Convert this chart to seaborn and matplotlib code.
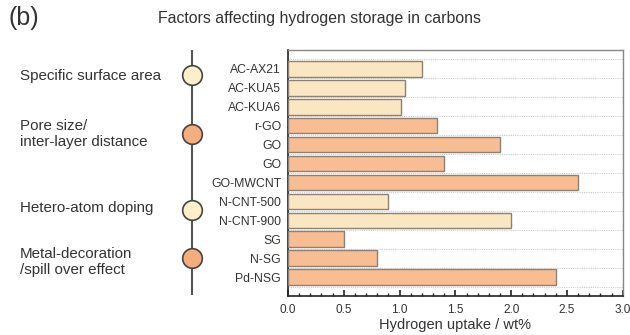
import matplotlib
matplotlib.use("Agg")
import matplotlib.pyplot as plt
from matplotlib.ticker import MultipleLocator, FixedLocator, FormatStrFormatter
import seaborn as sns
import pandas as pd
import numpy as np

# Data
materials = ["AC-AX21", "AC-KUA5", "AC-KUA6", "r-GO", "GO", "GO", "GO-MWCNT",
             "N-CNT-500", "N-CNT-900", "SG", "N-SG", "Pd-NSG"]
uptake = [1.2, 1.05, 1.01, 1.34, 1.9, 1.4, 2.6, 0.9, 2.0, 0.5, 0.8, 2.4]
groups = ["light", "light", "light", "orange", "orange", "orange", "orange",
          "light", "light", "orange", "orange", "orange"]
factors = ["Specific surface area", "Pore size/\ninter-layer distance",
           "Hetero-atom doping", "Metal-decoration\n/spill over effect"]
factor_groups = ["light", "orange", "light", "orange"]

bar_colors = {"light": "#FAE6C0", "orange": "#F8BD92"}
dot_colors = {"light": "#FDEFC9", "orange": "#F3AD7E"}

sns.set_style("white")
plt.rcParams["font.family"] = ["Liberation Sans", "DejaVu Sans"]
text_color = "#333333"

W, H = 630, 335
fig = plt.figure(figsize=(W / 100, H / 100), dpi=100)

# Bar chart axes (placed in pixel units)
left, right, top, bottom = 288, 622.7, 50, 296
ax = fig.add_axes([left / W, (H - bottom) / H, (right - left) / W, (bottom - top) / H])

df = pd.DataFrame({"idx": [str(i) for i in range(len(materials))],
                   "uptake": uptake, "group": groups})
sns.barplot(data=df, x="uptake", y="idx", hue="group", palette=bar_colors,
            order=df["idx"].tolist(), dodge=False, orient="h", width=0.82,
            saturation=1, edgecolor="#8C8175", linewidth=1.0, legend=False,
            ax=ax, zorder=3)

ax.set_xlim(0, 3.0)
ax.set_ylim(12.0, -1.0)
ax.set_yticks(range(len(materials)))
ax.set_yticklabels(materials, fontsize=8.8, color=text_color)
ax.tick_params(axis="y", which="major", length=0, pad=5)
ax.yaxis.set_minor_locator(FixedLocator(np.arange(-0.5, len(materials), 1.0)))
ax.tick_params(axis="y", which="minor", direction="in", length=3.5, width=1, color="#222222")
ax.grid(axis="y", which="minor", linestyle=(0, (1, 1)), color="#CCCCCC", linewidth=0.8, zorder=0)
ax.grid(axis="y", which="major", visible=False)

ax.xaxis.set_major_locator(MultipleLocator(0.5))
ax.xaxis.set_minor_locator(MultipleLocator(0.1))
ax.xaxis.set_major_formatter(FormatStrFormatter("%.1f"))
ax.tick_params(axis="x", which="major", direction="in", length=4.5, width=1.2,
               color="#222222", labelsize=8.5, labelcolor=text_color, pad=6, bottom=True)
ax.tick_params(axis="x", which="minor", direction="in", length=2.5, width=1,
               color="#222222", bottom=True)
ax.set_xlabel("Hydrogen uptake / wt%", fontsize=10.5, color=text_color, labelpad=1)
ax.set_ylabel("")

for s in ["left", "bottom"]:
    ax.spines[s].set_color("#222222")
    ax.spines[s].set_linewidth(1.2)
for s in ["top", "right"]:
    ax.spines[s].set_color("#888888")
    ax.spines[s].set_linewidth(1.0)

# Overlay for the factor timeline and titles, in pixel coordinates
ov = fig.add_axes([0, 0, 1, 1], zorder=-1)
ov.set_xlim(0, W)
ov.set_ylim(H, 0)
ov.axis("off")

line_x = 192
ov.plot([line_x, line_x], [50, 295], color="#555555", lw=1.5, solid_capstyle="butt")
dot_y = [75, 134, 210, 258]
text_y = [76, 134, 208, 262]
for f, g, yd, yt in zip(factors, factor_groups, dot_y, text_y):
    ov.scatter([line_x], [yd], s=200, color=dot_colors[g], edgecolor="#444444",
               linewidth=1.2, zorder=3)
    ov.text(20, yt, f, fontsize=10.9, color=text_color, ha="left", va="center",
            linespacing=1.15)

ov.text(9, 18, "(b)", fontsize=18, color=text_color, ha="left", va="center")
ov.text(320, 18, "Factors affecting hydrogen storage in carbons", fontsize=11.4,
        color=text_color, ha="center", va="center")

fig.savefig("out.png", dpi=100)
